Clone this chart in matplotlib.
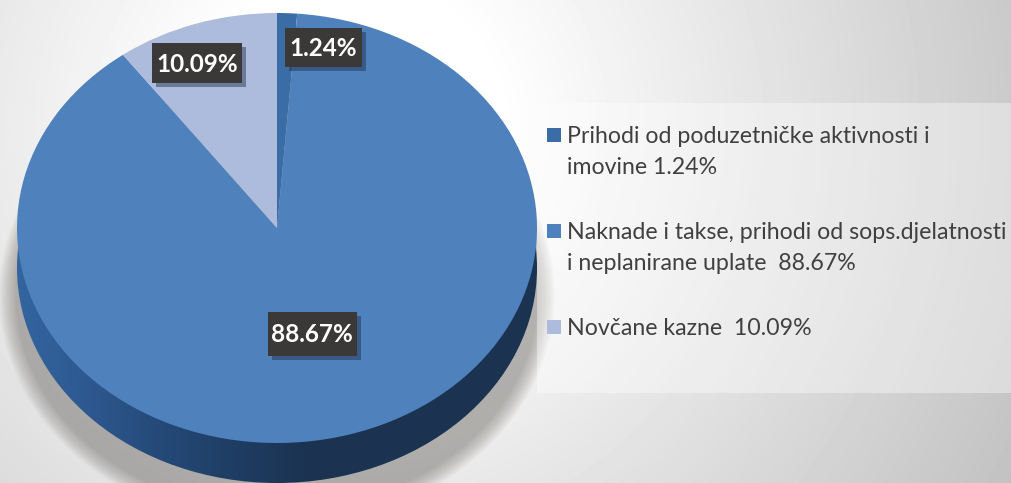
import numpy as np
import matplotlib
matplotlib.use('Agg')
import matplotlib.pyplot as plt
from matplotlib.patches import Ellipse, Rectangle
from matplotlib.colors import LinearSegmentedColormap
import matplotlib.patheffects as pe

plt.rcParams['font.family'] = ['Lato', 'DejaVu Sans']

# podaci
udjeli = [1.24, 88.67, 10.09]
boje = ['#3a6ca6', '#4f81bd', '#adbbdc']
oznake = ['1.24%', '88.67%', '10.09%']
legenda = ['Prihodi od poduzetničke aktivnosti i\nimovine 1.24%',
           'Naknade i takse, prihodi od sops.djelatnosti\ni neplanirane uplate  88.67%',
           'Novčane kazne  10.09%']

W, H = 1011, 483
fig = plt.figure(figsize=(W / 100, H / 100), dpi=100)
ax = fig.add_axes([0, 0, 1, 1])
ax.axis('off')

# pozadina - radijalni prijelaz
x, y = np.meshgrid(np.arange(W) + 0.5, np.arange(H) + 0.5)
d = np.sqrt((x - 350) ** 2 + (y - 130) ** 2)
siva = 1 - np.clip(d - 150, 0, None) * 0.0004
ax.imshow(siva, cmap='gray', vmin=0, vmax=1, extent=(0, W, H, 0), aspect='auto', zorder=0)
ax.set_xlim(0, W)
ax.set_ylim(H, 0)

# sjena ispod pite - niz elipsi koje se preklapaju, centar niže da gore ostane skrivena
for k in range(1, 19):
    ax.add_patch(Ellipse((277, 295), 520 + 2 * k, 430 + 2 * k, facecolor='#6e6a64', edgecolor='none',
                         alpha=0.033, zorder=1))

# okvir legende - poluprozirna bijela
ax.add_patch(Rectangle((537, 103), W - 537, 290, facecolor='white', edgecolor='none', alpha=0.38, zorder=2))

# bocna strana pite
strana_cm = LinearSegmentedColormap.from_list('strana', [(0, '#34659f'), (0.12, '#2e5a92'), (0.25, '#264c7c'),
                                                         (0.4, '#1f3f66'), (0.55, '#1b3352'), (1, '#1b3350')])
strana = ax.imshow(np.linspace(0, 1, 256).reshape(1, -1), cmap=strana_cm,
                   extent=(17, 537, 483, 228), aspect='auto', zorder=3)
ax.set_xlim(0, W)
ax.set_ylim(H, 0)
strana.set_clip_path(Ellipse((277, 268), 520, 430, transform=ax.transData))

# gornja strana pite
ax2 = fig.add_axes([17 / W, (H - 443) / H, 520 / W, 430 / H])
ax2.pie(udjeli, colors=boje, startangle=90, counterclock=False, radius=1)
ax2.set_aspect('auto')
ax2.set_xlim(-1, 1)
ax2.set_ylim(-1, 1)
ax2.patch.set_visible(False)

# natpisi i legenda
ax3 = fig.add_axes([0, 0, 1, 1])
ax3.set_xlim(0, W)
ax3.set_ylim(H, 0)
ax3.axis('off')
ax3.patch.set_visible(False)

poz_oznaka = [(323.5, 47.5), (312, 334), (197, 63)]
vel_oznaka = [(77, 39), (89, 44), (90, 40)]
for tekst, (px, py), (sir, vis) in zip(oznake, poz_oznaka, vel_oznaka):
    p = Rectangle((px - sir / 2, py - vis / 2), sir, vis, facecolor='#3b3838', edgecolor='none')
    p.set_path_effects([pe.withSimplePatchShadow(offset=(3, -3), alpha=0.45, shadow_rgbFace='#1c2c44')])
    ax3.add_patch(p)
    ax3.text(px, py + 1, tekst, color='white', fontsize=17.5, fontweight='bold', ha='center', va='center')

poz_legende = [135, 231, 327]
for tekst, boja, py in zip(legenda, boje, poz_legende):
    ax3.add_patch(Rectangle((547, py - 7), 14, 14, facecolor=boja, edgecolor='none'))
    ax3.text(567, py - 9, tekst, color='#404040', fontsize=16.7, ha='left', va='top', linespacing=1.6)

fig.savefig('out.png', dpi=100)
